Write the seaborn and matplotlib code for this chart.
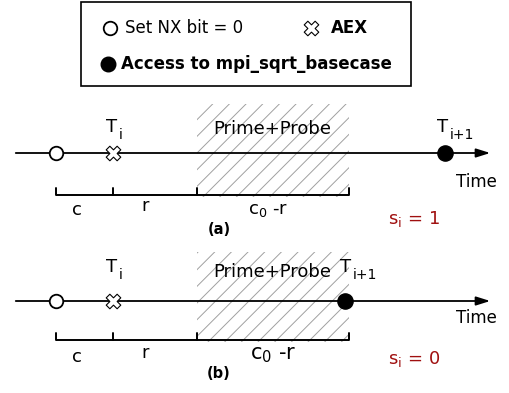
import matplotlib
matplotlib.use("Agg")
import matplotlib.pyplot as plt
import seaborn as sns
import pandas as pd
from matplotlib.patches import Rectangle

sns.set_theme(style="white")
plt.rcParams['font.family'] = ['DejaVu Sans']
plt.rcParams['text.color'] = 'black'
plt.rcParams['hatch.color'] = '#a0a0a0'
plt.rcParams['hatch.linewidth'] = 0.7

# ---- data (time positions along the axis, pixel-like units) ----
panels = ['(a)', '(b)']
nx_time = [56, 56]          # Set NX bit = 0
aex_time = [113, 113]       # AEX (T_i)
access_time = [445, 345]    # Access to mpi_sqrt_basecase (T_{i+1})
probe_start = [197, 197]
probe_end = [349, 349]
s_values = [1, 0]
seg_labels = ['c', 'r', r'c$_\mathregular{0}$ -r']

# layout
axis_y = [153, 301]
bracket_y = [195, 340]
time_start, time_end = 13, 493

fig = plt.figure(figsize=(5.10, 3.93), dpi=100)
ax = fig.add_axes([0, 0, 1, 1])
ax.set_xlim(0, 510)
ax.set_ylim(393, 0)
ax.axis('off')


def t_label(x, y, sub):
    ax.text(x, y, 'T', fontsize=13, ha='left', va='baseline')
    ax.text(x + 13, y + 7, sub, fontsize=10, ha='left', va='baseline')


# legend box
ax.add_patch(Rectangle((81.5, 1.5), 330, 84, fill=False, edgecolor='black', lw=1.2, zorder=5))
sns.scatterplot(x=[110], y=[28], ax=ax, s=95, color='white', edgecolor='black', linewidth=1.3, zorder=6)
sns.scatterplot(x=[108], y=[64], ax=ax, s=110, color='black', edgecolor='black', linewidth=1, zorder=6)
sns.scatterplot(x=[311], y=[28], ax=ax, s=110, marker='X', color='white', edgecolor='black', linewidth=0.8, zorder=6)
ax.text(125, 28, 'Set NX bit = 0', fontsize=12, va='center', ha='left', zorder=6)
ax.text(331, 28, 'AEX', fontsize=12, fontweight='bold', va='center', ha='left', zorder=6)
ax.text(121, 64, 'Access to mpi_sqrt_basecase', fontsize=12, fontweight='bold', va='center', ha='left', zorder=6)

for i, y0 in enumerate(axis_y):
    by = bracket_y[i]
    # hatched Prime+Probe region
    ax.add_patch(Rectangle((probe_start[i], y0 - 49), probe_end[i] - probe_start[i], by - (y0 - 49) + 2,
                           fill=False, hatch='//', edgecolor='#a0a0a0', lw=0, zorder=1))
    # time axis
    ax.annotate('', xy=(time_end, y0), xytext=(time_start, y0),
                arrowprops=dict(arrowstyle='-|>,head_length=0.7,head_width=0.22', color='black', lw=1.3),
                zorder=2)
    df = pd.DataFrame({'t': [nx_time[i]], 'y': [y0]})
    sns.scatterplot(data=df, x='t', y='y', ax=ax, s=95, color='white', edgecolor='black', linewidth=1.3, zorder=4)
    sns.scatterplot(x=[aex_time[i]], y=[y0], ax=ax, s=110, marker='X', color='white', edgecolor='black', linewidth=0.8, zorder=4)
    sns.scatterplot(x=[access_time[i]], y=[y0], ax=ax, s=120, color='black', edgecolor='black', linewidth=1, zorder=4)

    ty = y0 - 21 if i == 0 else y0 - 29
    t_label(aex_time[i] - 7, ty, 'i')
    t_label(access_time[i] - 8 if i == 0 else access_time[i] - 5, ty, 'i+1')
    ax.text(272, y0 - 24 if i == 0 else y0 - 29, 'Prime+Probe', fontsize=13, ha='center', va='center')
    ax.text(476, y0 + 29 if i == 0 else y0 + 17, 'Time', fontsize=12, ha='center', va='center')

    # brackets
    pts = [nx_time[i], aex_time[i], probe_start[i], probe_end[i]]
    ax.plot([pts[0], pts[-1]], [by, by], color='black', lw=1.4, zorder=3, solid_capstyle='butt')
    for p in pts:
        ax.plot([p, p], [by, by - 7], color='black', lw=1.4, zorder=3)
    ax.text(77, by + 15 if i == 0 else by + 17, seg_labels[0], fontsize=13, ha='center', va='center')
    ax.text(145, by + 11 if i == 0 else by + 13, seg_labels[1], fontsize=13, ha='center', va='center')
    ax.text(268 if i == 0 else 273, by + 15, seg_labels[2], fontsize=13 if i == 0 else 15,
            ha='center', va='center')
    ax.text(219, by + 34, panels[i], fontsize=10.5, fontweight='bold', ha='center', va='center')
    ax.text(414, by + 24 if i == 0 else by + 19, r's$_\mathregular{i}$ = ' + str(s_values[i]), fontsize=13,
            color='#a01010', ha='center', va='center')

fig.savefig('out.png', dpi=100)
